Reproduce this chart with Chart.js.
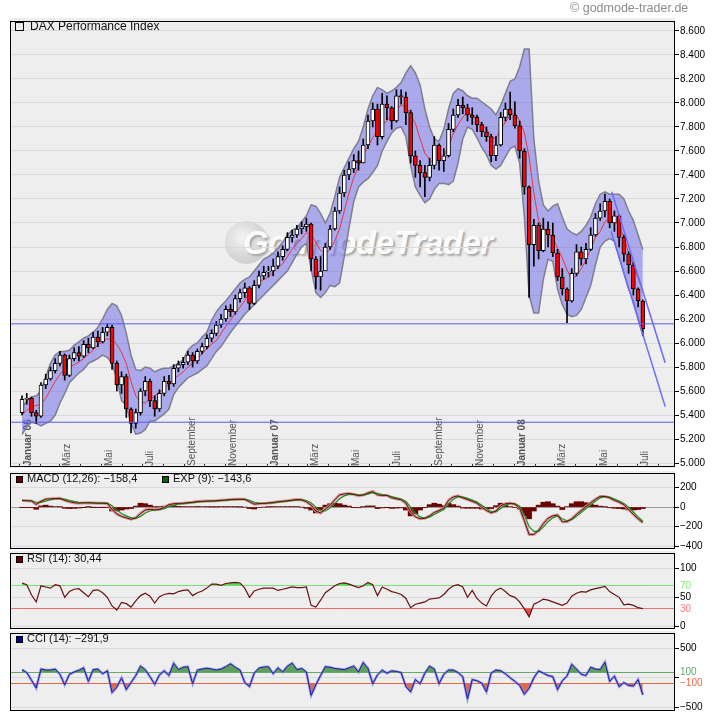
<!DOCTYPE html>
<html lang="de"><head><meta charset="utf-8"><title>DAX Performance Index</title>
<script src="https://cdn.jsdelivr.net/npm/chart.js@4.4.1/dist/chart.umd.min.js"></script>
<style>
html,body{margin:0;padding:0;background:#fff;}
body{position:relative;width:720px;height:721px;overflow:hidden;font-family:"Liberation Sans",Arial,sans-serif;}
.bg{position:absolute;left:10px;width:665px;background:#eeeeee;}
canvas{position:absolute;left:0;}
.t{position:absolute;white-space:nowrap;color:#111;font-size:11px;line-height:13px;}
.sq{position:absolute;width:5px;height:5px;border:1px solid #000;}
#wmc{position:absolute;left:225px;top:221px;width:43px;height:43px;border-radius:50%;
 background:radial-gradient(circle at 40% 38%,#f4f4f4 0%,#d6d6d6 55%,#c4c4c4 100%);}
#wmt{position:absolute;left:243px;top:226px;font:italic bold 33px/33px "Liberation Sans Narrow","Liberation Sans",Arial,sans-serif;
 color:#fbfbfb;text-shadow:2px 2px 2px #a8a8a8;letter-spacing:-0.5px;white-space:nowrap;}
</style></head><body>
<div class="bg" style="top:18px;height:450px"></div>
<div class="bg" style="top:471px;height:78px"></div>
<div class="bg" style="top:551px;height:78px"></div>
<div class="bg" style="top:631px;height:80px"></div>
<div id="wmc"></div>
<div id="wmt">GodmodeTrader</div>
<canvas id="cMain" width="720" height="460" style="top:14px"></canvas>
<canvas id="cMacd" width="720" height="90" style="top:466px"></canvas>
<canvas id="cRsi" width="720" height="90" style="top:546px"></canvas>
<canvas id="cCci" width="720" height="95" style="top:626px"></canvas>

<div class="t" style="left:570px;top:1px;font-size:12.5px;line-height:14px;color:#8c8c8c">© godmode-trader.de</div>
<div class="sq" style="left:15px;top:22px;width:7px;height:7px;background:transparent"></div>
<div class="t" style="left:30px;top:19px;font-size:12px;line-height:14px">DAX Performance Index</div>
<div class="sq" style="left:16px;top:476px;background:#6b0000"></div>
<div class="t" style="left:27px;top:472px">MACD (12,26): −158,4</div>
<div class="sq" style="left:162px;top:476px;background:#006400"></div>
<div class="t" style="left:173px;top:472px">EXP (9): −143,6</div>
<div class="sq" style="left:16px;top:556px;background:#6b0000"></div>
<div class="t" style="left:27px;top:552px">RSI (14): 30,44</div>
<div class="sq" style="left:16px;top:636px;background:#000099"></div>
<div class="t" style="left:27px;top:632px">CCI (14): −291,9</div>

<script>
// ---------------- DATA (weekly) ----------------
const open = [5420,5530,5540,5420,5390,5650,5700,5770,5830,5900,
 5730,5870,5920,5890,5990,5960,6050,6010,6090,6130,
 5830,5650,5720,5450,5330,5420,5600,5680,5520,5450,
 5580,5680,5660,5790,5820,5840,5900,5850,5930,5970,
 6040,6080,6150,6200,6280,6260,6370,6420,6460,6330,
 6480,6560,6590,6600,6640,6720,6780,6880,6900,6950,
 6970,6990,6700,6550,6600,6800,6950,7100,7250,7400,
 7450,7520,7500,7650,7850,7950,7720,7990,7960,7850,
 8060,8050,7920,7560,7480,7420,7380,7480,7650,7520,
 7560,7780,7900,7980,7960,7900,7880,7820,7760,7720,
 7560,7650,7880,7950,7900,7810,7600,7300,6820,6980,
 6770,6950,6900,6750,6550,6450,6350,6580,6760,6700,
 6780,6900,7040,7100,7180,7000,7060,6880,6740,6650,
 6450,6350];
const high = [5560,5580,5550,5440,5670,5740,5800,5870,5930,5910,
 5900,5960,5970,6020,6040,6090,6100,6130,6160,6150,
 5850,5760,5740,5460,5450,5620,5720,5700,5560,5610,
 5720,5730,5820,5850,5880,5930,5920,5950,6000,6070,
 6110,6180,6240,6310,6320,6400,6450,6500,6470,6520,
 6600,6640,6640,6700,6760,6810,6920,6940,6980,7010,
 7040,7000,6720,6720,6830,6980,7130,7300,7440,7510,
 7570,7600,7700,7900,8000,7990,8080,8060,7970,8110,
 8110,8090,7940,7600,7520,7480,7540,7720,7660,7620,
 7830,7950,8030,8050,7990,7960,7900,7840,7800,7740,
 7720,7920,8000,8090,8010,7850,7620,7310,7030,7000,
 7040,7010,7000,6780,6620,6460,6620,6820,6800,6830,
 6960,7080,7160,7240,7200,7100,7070,6900,6760,6670,
 6460,6360];
const low = [5400,5490,5390,5330,5380,5620,5690,5750,5810,5690,
 5720,5850,5850,5880,5920,5950,5970,6000,6060,5780,
 5600,5580,5380,5250,5290,5400,5560,5470,5390,5430,
 5560,5610,5640,5760,5790,5820,5800,5830,5910,5950,
 6010,6060,6130,6180,6220,6240,6340,6380,6280,6320,
 6460,6530,6550,6560,6620,6690,6770,6840,6880,6910,
 6930,6600,6450,6440,6620,6780,6940,7080,7220,7360,
 7420,7440,7500,7620,7800,7650,7700,7860,7780,7840,
 7990,7820,7500,7380,7300,7220,7350,7450,7440,7430,
 7550,7760,7880,7910,7850,7820,7760,7720,7680,7510,
 7520,7640,7850,7860,7790,7540,7240,6380,6640,6700,
 6760,6800,6720,6520,6400,6170,6340,6560,6650,6660,
 6770,6890,7020,7050,6960,6930,6800,6680,6580,6400,
 6300,6060];
const close = [5530,5540,5420,5390,5650,5700,5770,5830,5900,5730,
 5870,5920,5890,5990,5960,6050,6010,6090,6130,5830,
 5650,5720,5450,5330,5420,5600,5680,5520,5450,5580,
 5680,5660,5790,5820,5840,5900,5850,5930,5970,6040,
 6080,6150,6200,6280,6260,6370,6420,6460,6330,6480,
 6560,6590,6600,6640,6720,6780,6880,6900,6950,6970,
 6990,6700,6550,6600,6800,6950,7100,7250,7400,7450,
 7520,7500,7650,7850,7950,7720,7990,7960,7850,8060,
 8050,7920,7560,7480,7420,7380,7480,7650,7520,7560,
 7780,7900,7980,7960,7900,7880,7820,7760,7720,7560,
 7650,7880,7950,7900,7810,7600,7300,6820,6980,6770,
 6950,6900,6750,6550,6450,6350,6580,6760,6700,6780,
 6900,7040,7100,7180,7000,7060,6880,6740,6650,6450,
 6350,6120];
const bbUpper = [5460,5520,5550,5560,5600,5720,5830,5900,5930,5930,
 5940,5980,6010,6040,6060,6090,6130,6200,6280,6330,
 6310,6230,6080,5900,5780,5770,5800,5790,5760,5780,
 5790,5790,5810,5830,5860,5940,5980,6000,6050,6090,
 6190,6260,6310,6350,6400,6450,6500,6530,6550,6600,
 6650,6700,6720,6750,6790,6840,6900,6940,6960,7010,
 7060,7150,7140,7080,7000,7080,7220,7380,7460,7540,
 7620,7680,7800,7950,8060,8130,8110,8080,8100,8130,
 8170,8250,8310,8250,8150,7950,7800,7700,7680,7780,
 7950,8080,8120,8100,8060,8040,8040,8010,7980,7950,
 7900,7980,8080,8180,8200,8300,8450,8450,7700,7350,
 7150,7100,7140,7160,7050,6950,6920,6900,6930,6980,
 7050,7160,7240,7260,7240,7240,7240,7200,7100,7020,
 6900,6780];
const bbLower = [5240,5300,5340,5330,5310,5330,5350,5400,5500,5580,
 5670,5710,5750,5780,5830,5850,5870,5900,5880,5830,
 5700,5520,5480,5330,5240,5250,5280,5350,5350,5380,
 5410,5450,5570,5630,5670,5710,5730,5750,5780,5810,
 5870,5930,5970,6030,6090,6140,6190,6240,6280,6320,
 6360,6400,6440,6480,6520,6560,6600,6670,6740,6800,
 6830,6620,6420,6380,6420,6480,6470,6500,6720,6960,
 7180,7300,7340,7370,7420,7480,7600,7680,7750,7790,
 7800,7720,7480,7300,7230,7170,7200,7280,7330,7330,
 7320,7350,7500,7700,7800,7780,7710,7630,7570,7480,
 7450,7480,7550,7620,7640,7500,7050,6400,6250,6250,
 6530,6700,6680,6450,6320,6240,6220,6230,6280,6380,
 6480,6650,6800,6850,6870,6850,6720,6580,6450,6350,
 6200,6060];
const movAvg = [5400,5440,5470,5480,5490,5540,5610,5680,5740,5780,
 5800,5820,5840,5870,5905,5940,5985,6015,6035,6030,
 5990,5920,5830,5680,5560,5510,5500,5530,5560,5590,
 5620,5660,5700,5730,5760,5800,5830,5870,5910,5950,
 5990,6020,6080,6140,6190,6250,6300,6350,6430,6470,
 6500,6530,6550,6590,6630,6660,6720,6780,6830,6870,
 6920,6900,6840,6770,6750,6780,6850,6950,7100,7250,
 7380,7470,7560,7640,7710,7770,7820,7850,7900,7950,
 7980,7970,7900,7830,7700,7580,7530,7490,7510,7560,
 7640,7740,7820,7880,7920,7900,7870,7820,7780,7720,
 7700,7780,7840,7900,7920,7850,7750,7550,7250,7020,
 6960,6910,6875,6790,6710,6610,6530,6560,6620,6690,
 6780,6880,6930,7010,7040,7030,6970,6880,6750,6650,
 6540,6440];
const macd = [68,65,62,28,60,82,85,88,90,70,
 55,45,40,43,45,42,40,40,38,-25,
 -70,-95,-110,-125,-110,-65,-30,-22,-28,-22,
 -5,25,35,38,40,45,50,57,60,62,
 63,65,70,73,78,80,80,80,55,30,
 35,38,42,48,55,60,65,72,78,75,
 55,20,-40,-60,-20,20,75,125,135,140,
 130,118,125,145,160,125,120,120,95,85,
 75,40,-50,-100,-120,-115,-90,-55,-35,-10,
 70,105,115,95,78,60,40,0,-35,-60,
 -40,12,35,40,30,-10,-140,-280,-280,-240,
 -170,-115,-90,-80,-150,-150,-120,-75,-35,5,
 45,80,110,110,95,70,50,25,-25,-75,
 -120,-158.4];
const signal = [70,68,65,50,48,62,75,83,87,82,
 70,58,50,45,44,43,42,41,40,15,
 -30,-65,-90,-110,-115,-95,-60,-40,-30,-25,
 -15,5,20,30,36,40,45,50,55,58,
 61,63,66,70,74,77,79,80,70,50,
 40,38,40,44,50,55,60,66,72,75,
 68,45,0,-40,-40,-10,35,85,115,130,
 133,125,123,133,148,140,128,122,108,95,
 83,60,0,-60,-100,-112,-103,-75,-50,-25,
 30,80,105,105,90,72,52,20,-15,-45,
 -48,-15,20,35,35,10,-80,-200,-250,-250,
 -205,-150,-110,-90,-120,-140,-130,-95,-55,-15,
 25,60,95,108,102,82,62,38,0,-50,
 -100,-143.6];
const histogram = [-2,-3,-3,-22,12,20,10,5,3,-12,
 -15,-13,-10,-2,1,-1,-2,-1,-2,-40,
 -40,-30,-20,-15,10,40,35,20,2,3,
 10,20,15,8,4,5,5,7,5,4,
 2,2,4,3,4,3,1,0,-15,-20,
 -5,0,2,4,5,5,5,6,6,0,
 -13,-30,-60,-25,20,35,40,35,20,10,
 -3,-7,2,12,12,-15,-8,-2,-13,-10,
 -8,-30,-90,-70,-30,-3,25,40,30,15,
 40,25,10,-10,-12,-12,-12,-20,-20,-15,
 15,40,25,5,-5,-20,-90,-120,-40,20,
 50,55,35,10,-25,5,35,55,55,45,
 30,20,10,2,-7,-12,-15,-20,-30,-30,
 -25,-15];
const rsi = [75,72,54,42,70,68,66,72,70,50,
 60,64,65,58,51,62,63,58,50,35,
 28,41,39,33,44,53,57,52,40,51,
 55,57,56,60,62,63,53,58,61,66,
 73,73,71,74,75,76,75,66,50,61,
 64,66,66,66,62,64,66,68,67,67,
 68,36,33,45,58,64,70,74,75,73,
 70,67,70,76,72,53,68,64,60,58,
 55,48,32,38,40,42,47,48,49,55,
 64,70,72,68,50,62,48,40,35,52,
 62,66,60,53,50,42,30,16,38,42,
 47,45,42,39,36,40,52,57,60,59,
 63,65,67,69,60,55,50,37,38,36,
 32,30.44];
const cci = [140,90,-40,-175,150,133,133,150,60,-120,
 60,100,130,170,-60,140,150,70,120,-250,
 -160,0,-200,-80,40,200,140,20,-110,50,
 120,40,250,140,180,190,-100,133,150,165,
 150,133,150,190,240,180,133,-80,-150,80,
 167,185,190,70,170,100,200,250,140,160,
 100,-300,-120,40,190,180,160,150,140,170,
 200,100,260,160,-100,50,130,80,120,110,
 90,-150,-240,-30,-100,80,200,150,-100,60,
 133,133,90,20,-360,-30,-50,-90,-240,80,
 133,120,70,0,-60,-130,-280,-180,0,120,
 80,40,20,-200,-50,30,230,150,60,40,
 180,150,140,270,-60,30,-150,-80,-130,-140,
 -30,-291.9];
const priceLevels = [5340, 6160];
const trendUpper = [['2008-05-24', 7260], ['2008-08-11', 5835]];
const trendLower = [['2008-05-23', 6930], ['2008-08-11', 5470]];
const priceTicks = [5000,5200,5400,5600,5800,6000,6200,6400,6600,6800,7000,7200,7400,7600,7800,8000,8200,8400,8600];
const macdTicks = [200, 0, -200, -400];
const rsiTicks = [100, 70, 50, 30, 0];
const cciTicks = [500, 100, 0, -100, -500];
const monthLabels = ['Januar 06','März','Mai','Juli','September','November',
 'Januar 07','März','Mai','Juli','September','November','Januar 08','März','Mai','Juli'];

// ---------------- helpers ----------------
const FONT = '"Liberation Sans", Arial, sans-serif';
const DAY0 = Date.UTC(2006, 0, 1);
const dayOf = s => (Date.parse(s + 'T00:00:00Z') - DAY0) / 864e5;
const weekDates = [];
for (let i = 0; i < close.length; i++) weekDates.push(new Date(Date.UTC(2006, 0, 4 + 7 * i)).toISOString().slice(0, 10));
const X_MIN = -14.77, X_MAX = 967.5;
const pts = arr => arr.map((v, i) => ({ x: dayOf(weekDates[i]), y: v }));
const monthTicks = [];
for (let y = 2006; y <= 2008; y++) for (let m = 0; m < 12; m++) {
  const d = (Date.UTC(y, m, 1) - DAY0) / 864e5; if (d <= X_MAX) monthTicks.push(d);
}
const LABEL_SHIFT = 11.5;
const labelTicks = monthTicks.filter((d, i) => i % 2 === 0).slice(0, monthLabels.length).map(d => d + LABEL_SHIFT);
function fmt(v) {
  const s = Math.round(Math.abs(v)).toString().replace(/\B(?=(\d{3})+(?!\d))/g, '.');
  return (v < 0 ? '\u2212' : '') + s;
}
const frame = { id: 'frame', afterDatasetsDraw(chart) {
  const { ctx, chartArea: a } = chart; ctx.save(); ctx.strokeStyle = '#000'; ctx.lineWidth = 1;
  ctx.strokeRect(Math.round(a.left) + 0.5, Math.round(a.top) + 0.5, Math.round(a.right - a.left) - 1, Math.round(a.bottom - a.top) - 1);
  ctx.restore(); } };
const base = { responsive: false, animation: false, devicePixelRatio: 1, events: [],
  plugins: { legend: { display: false }, tooltip: { enabled: false } } };
const hiddenX = { type: 'linear', min: X_MIN, max: X_MAX, offset: false, display: false };
function yAxis(min, max, vals, labelFn, gridFn, tickColFn, labColFn) {
  return { position: 'right', min, max,
    afterBuildTicks: s => { s.ticks = vals.map(v => ({ value: v })); },
    afterFit: s => { s.width = 45; },
    border: { display: false },
    grid: { color: c => c.tick ? gridFn(c.tick.value) : '#d9d9d9',
            tickColor: c => c.tick ? tickColFn(c.tick.value) : '#000', tickLength: 4 },
    ticks: { padding: 1, font: { family: FONT, size: 10 },
             color: c => c.tick ? labColFn(c.tick.value) : '#000', callback: v => labelFn(v) } };
}
const line = (data, color, width, extra) => Object.assign({ type: 'line', data, borderColor: color, borderWidth: width,
  pointRadius: 0, fill: false, tension: 0 }, extra || {});
const flat = v => [{ x: X_MIN, y: v }, { x: X_MAX, y: v }];
const seg = t => t.map(p => ({ x: dayOf(p[0]), y: p[1] }));

// ---------------- main price chart ----------------
new Chart(document.getElementById('cMain'), {
  type: 'bar',
  data: { datasets: [
    line(pts(bbUpper), '#7e7e8e', 1.5, { fill: 1, backgroundColor: 'rgba(100,100,232,0.5)', order: 6 }),
    line(pts(bbLower), '#7e7e8e', 1.5, { order: 5 }),
    line(pts(movAvg), '#e8343c', 1, { order: 4 }),
    { type: 'bar', data: weekDates.map((d, i) => ({ x: dayOf(d), y: [low[i], high[i]] })),
      backgroundColor: '#000', barThickness: 1, grouped: false, order: 3 },
    { type: 'bar', data: weekDates.map((d, i) => ({ x: dayOf(d), y: [open[i], close[i]] })),
      backgroundColor: c => close[c.dataIndex] >= open[c.dataIndex] ? '#ffffff' : '#ff0000',
      borderColor: '#000', borderWidth: 1, borderSkipped: false, barThickness: 4, minBarLength: 1,
      grouped: false, order: 2 },
    line(flat(priceLevels[0]), '#5b5bf5', 1, { order: 1 }),
    line(flat(priceLevels[1]), '#5b5bf5', 1, { order: 1 }),
    line(seg(trendUpper), '#6b6bff', 1.5, { order: 0 }),
    line(seg(trendLower), '#6b6bff', 1.5, { order: 0 })
  ] },
  options: Object.assign({}, base, {
    layout: { padding: { left: 10, right: 0, top: 4, bottom: 6 } },
    scales: {
      x: { type: 'linear', position: 'top', min: X_MIN, max: X_MAX, offset: false,
        grid: { display: false, drawTicks: false }, border: { display: false },
        afterBuildTicks: s => { s.ticks = labelTicks.map(v => ({ value: v })); },
        afterFit: s => { s.height = 0; s.paddingLeft = 0; s.paddingRight = 0; s.paddingTop = 0; s.paddingBottom = 0; },
        ticks: { autoSkip: false, minRotation: 90, maxRotation: 90, mirror: true, padding: 445, color: '#555',
          font: c => ({ family: FONT, size: 10, weight: (c.index % 6 === 0) ? 'bold' : 'normal' }),
          callback: (v, i) => monthLabels[i] } },
      x2: { type: 'linear', position: 'bottom', min: X_MIN, max: X_MAX, offset: false,
        grid: { display: true, drawOnChartArea: false, drawTicks: true, tickLength: -3, tickColor: '#333', offset: false },
        border: { display: false }, ticks: { display: false },
        afterBuildTicks: s => { s.ticks = monthTicks.map(v => ({ value: v })); },
        afterFit: s => { s.height = 0; s.paddingLeft = 0; s.paddingRight = 0; } },
      y: yAxis(4967, 8683, priceTicks, fmt, () => '#d9d9d9', () => '#000', () => '#000')
    }
  }),
  plugins: [frame]
});

// ---------------- MACD ----------------
new Chart(document.getElementById('cMacd'), {
  type: 'bar',
  data: { datasets: [
    line(pts(macd), '#6b0a0a', 1, { order: 0 }),
    line(pts(signal), '#1f8f1f', 1.2, { order: 1 }),
    line(pts(macd), 'rgba(205,145,145,0.9)', 3, { order: 2 }),
    { type: 'bar', data: pts(histogram), backgroundColor: '#6b0000', barThickness: 5, order: 3 }
  ] },
  options: Object.assign({}, base, {
    layout: { padding: { left: 10, right: 0, top: 5, bottom: 7 } },
    scales: { x: hiddenX,
      y: yAxis(-430, 350, macdTicks, fmt, v => v === 0 ? '#9a9a9a' : '#d9d9d9', () => '#000', () => '#000') }
  }),
  plugins: [frame]
});

// ---------------- RSI ----------------
new Chart(document.getElementById('cRsi'), {
  type: 'line',
  data: { datasets: [
    line(pts(rsi), '#6b1010', 1.2, { fill: { target: { value: 70 }, above: '#5bd75b', below: 'rgba(0,0,0,0)' }, order: 0 }),
    line(pts(rsi), 'rgba(0,0,0,0)', 0, { fill: { target: { value: 30 }, above: 'rgba(0,0,0,0)', below: '#e84848' }, order: 1 })
  ] },
  options: Object.assign({}, base, {
    layout: { padding: { left: 10, right: 0, top: 5, bottom: 7 } },
    scales: { x: hiddenX,
      y: yAxis(-5.1, 127.1, rsiTicks, v => String(v),
        v => v === 70 ? '#7ae87a' : v === 30 ? '#ee7070' : '#d9d9d9',
        v => (v === 70 || v === 30) ? 'rgba(0,0,0,0)' : '#000',
        v => v === 70 ? '#7af07a' : v === 30 ? '#ff7a7a' : '#000') }
  }),
  plugins: [frame]
});

// ---------------- CCI ----------------
new Chart(document.getElementById('cCci'), {
  type: 'line',
  data: { datasets: [
    line(pts(cci), '#1a1aa0', 1, { fill: { target: { value: 100 }, above: '#5e9e5e', below: 'rgba(0,0,0,0)' }, order: 0 }),
    line(pts(cci), 'rgba(125,125,225,0.75)', 2.6, { order: 1 }),
    line(pts(cci), 'rgba(0,0,0,0)', 0, { fill: { target: { value: -100 }, above: 'rgba(0,0,0,0)', below: '#e26a4a' }, order: 2 })
  ] },
  options: Object.assign({}, base, {
    layout: { padding: { left: 10, right: 0, top: 5, bottom: 10 } },
    scales: { x: hiddenX,
      y: yAxis(-566.7, 766.7, cciTicks, v => v === 0 ? '' : fmt(v),
        v => v === 100 ? '#66a866' : v === -100 ? '#e06848' : '#d9d9d9',
        v => (v === 100 || v === -100) ? 'rgba(0,0,0,0)' : '#000',
        v => v === 100 ? '#66aa66' : v === -100 ? '#ee6644' : '#000') }
  }),
  plugins: [frame]
});
</script>
</body></html>
